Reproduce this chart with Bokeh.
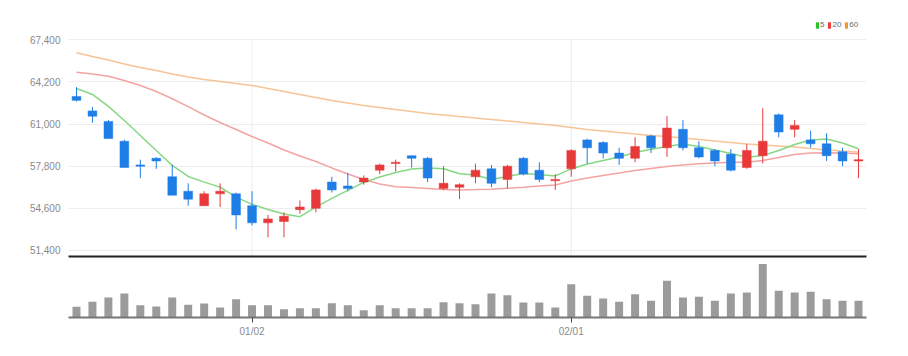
from bokeh.plotting import figure
from bokeh.layouts import column
from bokeh.models import (ColumnDataSource, FixedTicker, NumeralTickFormatter,
                          Legend, LegendItem, Range1d, CDSView, IndexFilter)
from bokeh.embed import file_html
from bokeh.resources import INLINE

dates = ["12/15", "12/16", "12/19", "12/20", "12/21", "12/22", "12/23", "12/26", "12/27", "12/28",
         "12/29", "01/02", "01/03", "01/04", "01/05", "01/06", "01/09", "01/10", "01/11", "01/12",
         "01/13", "01/16", "01/17", "01/18", "01/19", "01/20", "01/25", "01/26", "01/27", "01/30",
         "01/31", "02/01", "02/02", "02/03", "02/06", "02/07", "02/08", "02/09", "02/10", "02/13",
         "02/14", "02/15", "02/16", "02/17", "02/20", "02/21", "02/22", "02/23", "02/24", "02/27"]

opens = [63100, 62000, 61200, 59700, 57900, 58400, 57000, 55900, 54800, 55700,
         55700, 54800, 53500, 53600, 54500, 54600, 56600, 56300, 56600, 57500,
         58000, 58600, 58400, 56100, 56200, 57000, 57600, 56800, 58400, 57500,
         56700, 57600, 59800, 59600, 58800, 58400, 60100, 59200, 60600, 59200,
         59000, 58700, 57700, 58600, 61700, 60600, 59800, 59500, 58900, 58200]
highs = [63800, 62300, 61300, 59800, 58300, 58500, 57900, 56500, 55900, 56500,
         55800, 55900, 54100, 54300, 55200, 56100, 57000, 57300, 57100, 58000,
         58300, 58600, 58500, 57800, 56500, 58000, 57900, 57900, 58500, 58100,
         57200, 59100, 59900, 59700, 59200, 60000, 60200, 61600, 61300, 59700,
         59100, 59100, 59500, 62200, 61800, 61300, 60500, 60300, 59200, 59100]
lows = [62700, 61100, 59900, 57700, 56900, 57600, 55600, 54800, 54800, 54700,
        53000, 53300, 52400, 52400, 54200, 54300, 55800, 55900, 56400, 57200,
        57400, 57700, 56600, 56000, 55300, 56500, 56200, 56100, 57100, 56600,
        56000, 57000, 58000, 58400, 57900, 58100, 58800, 58500, 59000, 58400,
        57800, 57400, 57600, 58000, 60000, 60000, 59200, 58200, 57800, 56900]
closes = [62800, 61600, 59900, 57700, 57800, 58200, 55600, 55300, 55700, 55900,
          54100, 53500, 53800, 54000, 54700, 56000, 56000, 56100, 56900, 57900,
          58100, 58400, 56900, 56500, 56400, 57500, 56500, 57800, 57200, 56800,
          56800, 59000, 59200, 58800, 58400, 59300, 59200, 60700, 59200, 58500,
          58200, 57500, 59000, 59700, 60400, 60900, 59500, 58600, 58200, 58300]

ma5 = [63700, 63250, 62340, 61275, 60136, 58998, 57859, 57024, 56592, 56212,
       55453, 54899, 54520, 54178, 53966, 54687, 55355, 55962, 56569, 56987,
       57328, 57594, 57670, 57609, 57229, 57138, 56797, 57024, 57252, 57176,
       57062, 57594, 57973, 58239, 58505, 58846, 59089, 59301, 59484, 59301,
       59036, 58770, 58489, 58618, 58998, 59453, 59795, 59871, 59567, 59127]
ma20 = [64941, 64804, 64637, 64311, 63931, 63476, 62922, 62322, 61692, 61123,
        60592, 60060, 59567, 59036, 58580, 58163, 57670, 57214, 56797, 56455,
        56243, 56190, 56114, 56038, 56000, 56023, 56053, 56129, 56205, 56296,
        56379, 56683, 56911, 57100, 57290, 57480, 57632, 57783, 57897, 57996,
        58049, 58095, 58110, 58239, 58467, 58694, 58808, 58823, 58801, 58747]
ma60 = [66413, 66132, 65867, 65563, 65298, 65070, 64804, 64577, 64387, 64235,
        64083, 63931, 63704, 63476, 63248, 63021, 62793, 62603, 62413, 62262,
        62110, 61958, 61806, 61692, 61578, 61465, 61351, 61237, 61123, 61009,
        60895, 60744, 60592, 60478, 60364, 60250, 60136, 60060, 59947, 59833,
        59719, 59605, 59491, 59415, 59339, 59264, 59150, 59036, 58960, 58869]

volumes = [320000, 470000, 600000, 720000, 370000, 330000, 600000, 380000, 420000, 300000,
           550000, 370000, 370000, 250000, 280000, 280000, 430000, 370000, 220000, 370000,
           280000, 280000, 280000, 460000, 430000, 400000, 720000, 670000, 450000, 450000,
           300000, 1000000, 650000, 570000, 470000, 700000, 500000, 1100000, 600000, 620000,
           500000, 720000, 750000, 1600000, 800000, 750000, 770000, 550000, 500000, 500000]

price_ticks = [51400, 54600, 57800, 61000, 64200, 67400]
x_tick_labels = ["01/02", "02/01"]
ma_labels = ["5", "20", "60"]

UP = "#e8393a"
DOWN = "#1f7de6"
MA_COLORS = ["#84d884", "#f4a3a3", "#f8c496"]
KEY_COLORS = ["#2fbf2f", "#ee3b3b", "#f7962f"]
FONT = "Liberation Sans"
Y_LO, Y_HI = 50944, 69473

idx = list(range(len(dates)))
colors = [UP if c > o else DOWN for o, c in zip(opens, closes)]
src = ColumnDataSource(dict(
    x=idx, open=opens, high=highs, low=lows, close=closes,
    top=[max(o, c) for o, c in zip(opens, closes)],
    bottom=[min(o, c) for o, c in zip(opens, closes)],
    color=colors, ma5=ma5, ma20=ma20, ma60=ma60, vol=volumes))

tick_pos = [dates.index(t) for t in x_tick_labels]

# ---------------- price panel ----------------
W = 908
p = figure(width=W, height=260, output_backend="svg", toolbar_location=None,
           x_range=Range1d(-0.5, len(dates) - 0.5),
           y_range=Range1d(Y_LO, Y_HI),
           min_border_left=68, min_border_right=42, min_border_top=12,
           min_border_bottom=4)
p.outline_line_color = None
p.background_fill_color = "white"
p.border_fill_color = "white"

p.yaxis.ticker = FixedTicker(ticks=price_ticks)
p.yaxis.formatter = NumeralTickFormatter(format="0,0")
p.yaxis.axis_line_color = None
p.yaxis.major_tick_line_color = None
p.yaxis.minor_tick_line_color = None
p.yaxis.major_label_text_font = FONT
p.yaxis.major_label_text_font_size = "10px"
p.yaxis.major_label_text_color = "#8a8a8a"
p.yaxis.major_label_standoff = 2

p.xaxis.ticker = FixedTicker(ticks=[])
p.xaxis.major_tick_line_color = None
p.xaxis.minor_tick_line_color = None
p.xaxis.major_label_standoff = 0
p.xaxis.axis_line_color = "#222222"
p.xaxis.axis_line_width = 2

p.ygrid.ticker = FixedTicker(ticks=price_ticks)
p.ygrid.grid_line_color = "#ededed"
p.xgrid.visible = False
# vertical date grid lines, only over the priced area
p.segment(x0=tick_pos, x1=tick_pos, y0=[Y_LO] * len(tick_pos),
          y1=[max(price_ticks)] * len(tick_pos), line_color="#ededed", line_width=1)

for key, col in zip(["ma60", "ma20", "ma5"], MA_COLORS[::-1]):
    p.line("x", key, source=src, line_color=col, line_width=1.5)

p.segment(x0="x", y0="low", x1="x", y1="high", source=src, line_color="color", line_width=1)
p.vbar(x="x", width=0.55, top="top", bottom="bottom", source=src,
       fill_color="color", line_color="color", line_width=0.5)

# legend keys (colour squares): zero-height bars used only as legend swatches
items = []
for lbl, col in zip(ma_labels, KEY_COLORS):
    r = p.vbar(x="x", width=0.5, top="bottom", bottom="bottom", source=src,
               view=CDSView(filter=IndexFilter([0])),
               fill_color=col, line_color=None)
    items.append(LegendItem(label=lbl, renderers=[r]))
leg = Legend(items=items, orientation="horizontal", location=(747, 227),
             glyph_width=4, glyph_height=8, label_standoff=1, spacing=3,
             padding=0, margin=0, border_line_color=None,
             background_fill_alpha=0, label_text_font=FONT,
             label_text_font_size="8px", label_text_color="#666666",
             label_height=8, label_width=4)
p.add_layout(leg)

# ---------------- volume panel ----------------
v = figure(width=W, height=96, output_backend="svg", toolbar_location=None,
           x_range=p.x_range, y_range=Range1d(0, 1708000),
           min_border_left=68, min_border_right=42, min_border_top=0,
           min_border_bottom=39)
v.outline_line_color = None
v.yaxis.visible = False
v.grid.visible = False
v.vbar(x="x", width=0.5, top="vol", bottom=0, source=src,
       fill_color="#9b9b9b", line_color=None)
v.xaxis.ticker = FixedTicker(ticks=tick_pos)
v.xaxis.major_label_overrides = {i: t for i, t in zip(tick_pos, x_tick_labels)}
v.xaxis.axis_line_color = "#777777"
v.xaxis.axis_line_width = 2
v.xaxis.major_tick_line_color = "#444444"
v.xaxis.major_tick_out = 5
v.xaxis.major_tick_in = 0
v.xaxis.minor_tick_line_color = None
v.xaxis.major_label_standoff = 3
v.xaxis.major_label_text_font = FONT
v.xaxis.major_label_text_font_size = "10px"
v.xaxis.major_label_text_color = "#8a8a8a"

layout = column(p, v, spacing=0)
open("out.html", "w").write(file_html(layout, INLINE))
